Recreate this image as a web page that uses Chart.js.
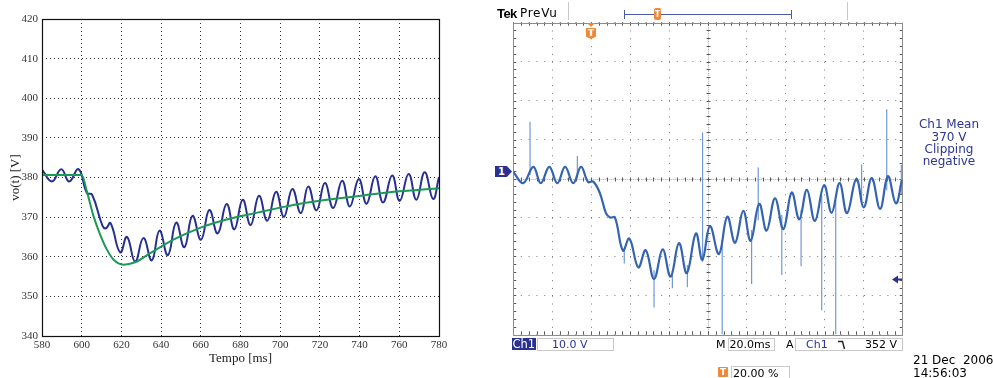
<!DOCTYPE html>
<html>
<head>
<meta charset="utf-8">
<script src="https://cdn.jsdelivr.net/npm/chart.js@4.4.0/dist/chart.umd.min.js"></script>
<style>
  body { margin: 0; background: #fff; width: 993px; height: 378px; overflow: hidden; position: relative; font-family: "DejaVu Sans", sans-serif; }
  canvas { position: absolute; top: 0; }
  #simChart { left: 0; }
  #scopeChart { left: 500px; }
  .t { position: absolute; white-space: nowrap; line-height: 1; font-size: 12px; }
  .box { position: absolute; border: 1px solid #c9c9c9; background: #fff; }
  .navy { color: #2b3596; }
  .orange { background: #f0883a; color: #fff; font-weight: bold; font-size: 9px; text-align: center; position: absolute; }
</style>
</head>
<body>
<canvas id="simChart" width="460" height="378"></canvas>
<canvas id="scopeChart" width="493" height="378"></canvas>

<!-- scope header -->
<div class="t" style="left:497px;top:6.5px;font-family:'Liberation Sans';font-weight:bold;font-size:13px;letter-spacing:-0.6px">Tek</div>
<div class="t" style="left:520px;top:7px;letter-spacing:.7px">PreVu</div>
<div style="position:absolute;left:568px;top:2px;width:1px;height:18px;background:#c8c8c8"></div>
<div style="position:absolute;left:847px;top:2px;width:1px;height:18px;background:#c8c8c8"></div>
<div style="position:absolute;left:624px;top:14px;width:168px;height:1px;background:#4a5aa8"></div>
<div style="position:absolute;left:624px;top:10px;width:1px;height:9px;background:#4a5aa8"></div>
<div style="position:absolute;left:791px;top:10px;width:1px;height:9px;background:#4a5aa8"></div>
<div class="orange" style="left:654px;top:8px;width:7px;height:12px;line-height:13px;border-radius:2px;font-size:8px">T</div>
<div style="position:absolute;left:586.5px;top:23px;width:0;height:0;border-left:4.5px solid transparent;border-right:4.5px solid transparent;border-top:4px solid #f0883a"></div>
<div class="orange" style="left:586px;top:28px;width:10px;height:11px;line-height:11px;clip-path:polygon(0 0,100% 0,100% 80%,50% 100%,0 80%)">T</div>
<div style="position:absolute;left:495px;top:166px;width:17px;height:11px;background:#2b3190;clip-path:polygon(0 0,70% 0,100% 50%,70% 100%,0 100%);color:#fff;font-weight:bold;font-size:10px;line-height:11px;padding-left:3px;box-sizing:border-box">1</div>
<svg style="position:absolute;left:892px;top:275px" width="11" height="9"><polygon points="0,4.5 6,0.5 6,8.5" fill="#2b3190"/><rect x="5" y="3.5" width="5" height="2" fill="#2b3190"/></svg>

<div class="t navy" style="left:900px;top:118.3px;width:98px;text-align:center;line-height:12.2px">Ch1 Mean<br>370 V<br>Clipping<br>negative</div>

<!-- scope footer -->
<div class="t" style="left:511.5px;top:338px;width:24.5px;height:12px;background:#2b3190;color:#fff;font-size:11.5px;line-height:12px;text-align:center">Ch1</div>
<div class="box" style="left:536.5px;top:337.5px;width:75px;height:11px"></div>
<div class="t navy" style="left:552px;top:339px;font-size:11px">10.0 V</div>
<div class="t" style="left:716px;top:339px;font-size:11px">M</div>
<div class="box" style="left:727.5px;top:337.5px;width:45px;height:11px"></div>
<div class="t" style="left:729.5px;top:339px;font-size:11px">20.0ms</div>
<div class="t" style="left:786px;top:339px;font-size:11px">A</div>
<div class="box" style="left:795px;top:337.5px;width:106px;height:11px"></div>
<div class="t navy" style="left:806px;top:339px;font-size:11px">Ch1</div>
<svg style="position:absolute;left:837px;top:340px" width="10" height="10"><polyline points="1,1.5 5.5,1.5 7.5,9" fill="none" stroke="#222" stroke-width="1.4"/></svg>
<div class="t" style="left:865px;top:339px;font-size:11px">352 V</div>
<div class="t" style="left:913px;top:353.5px">21 Dec&nbsp;&nbsp;2006</div>
<div class="t" style="left:913px;top:367px">14:56:03</div>
<div class="orange" style="left:718px;top:367px;width:10px;height:10px;line-height:10px;border-radius:1px">T</div>
<div class="box" style="left:730.5px;top:366px;width:57px;height:11px"></div>
<div class="t" style="left:733px;top:367.5px;font-size:11px">20.00 %</div>

<script>
// Simulated output voltage (left plot)
const simTime = [580, 585, 589.7, 593.7, 598.4, 602.6, 605.2, 610.5, 612.3, 614.5, 619.4, 622.8, 626.9, 631.1, 635.3, 639.2, 643.4, 647.6, 651.7, 655.8, 660.1, 664.3, 668.5, 673, 676.9, 681.1, 685.1, 689.3, 693.5, 697.9, 701.9, 706.1, 710.4, 714.1, 718.3, 722.5, 726.7, 731.2, 735.1, 739.6, 743.5, 747.9, 751.8, 756.4, 760.2, 764.7, 768.6, 772.8, 777, 780];
const simVolt = [382.0, 379, 382.1, 379, 382.1, 376.1, 375.7, 367.8, 367.2, 368.5, 361.1, 365, 358.8, 364.7, 359.1, 366.6, 360.4, 368.6, 362.4, 370.3, 364.3, 371.8, 365.9, 373.3, 366.9, 374.4, 368, 375.4, 369.1, 376.4, 370.1, 377.1, 371, 377.7, 371.7, 378.6, 372.3, 379.2, 372.7, 379.6, 373.4, 380.3, 373.7, 380.5, 374.1, 380.9, 374.4, 381.3, 374.6, 380.1];

// Mean (average model) voltage
const avgTime = [580, 600, 602.6, 606, 609.3, 612.7, 616, 621, 626.9, 634.5, 646.2, 659.6, 673, 689, 700, 710, 726.7, 743.5, 760.2, 780];
const avgVolt = [380.6, 380.6, 376.5, 370.2, 365.6, 361.8, 359.3, 358, 358.6, 360.9, 364.3, 367.3, 369.4, 371.2, 372.4, 373.4, 374.6, 375.6, 376.5, 377.3];

// Oscilloscope capture: time from left edge of screen [ms], voltage [V]
const scopeTime = [0, 5.1, 10.3, 14.1, 18.5, 22.6, 26.6, 30.8, 34.8, 38.4, 41.1, 44.5, 47.6, 49.7, 52.2, 56.3, 59.6, 64.2, 68.0, 72.3, 76.7, 80.8, 85.1, 89.1, 93.8, 97.1, 101.0, 105.6, 109.9, 113.9, 118.1, 121.9, 126.3, 130.1, 134.4, 138.7, 143.0, 146.9, 150.8, 154.9, 159.6, 163.5, 167.6, 171.4, 176.2, 180.0, 184.1, 188.4, 192.4, 196.5, 199.6];
const scopeVolt = [381.7, 378.8, 383.0, 378.8, 383.0, 378.8, 383.0, 378.8, 383.0, 379.1, 379.2, 376.2, 371.1, 370.0, 370.0, 361.5, 364.6, 357.2, 361.6, 354.2, 361.8, 354.8, 363.4, 355.7, 365.9, 359.1, 367.8, 360.6, 370.2, 363.5, 371.7, 364.0, 373.5, 366.6, 374.9, 367.0, 376.4, 369.5, 377.1, 369.1, 378.3, 371.2, 378.8, 371.1, 379.9, 372.6, 380.1, 372.2, 380.6, 373.6, 379.6];

// switching glitches on the scope trace
const spikeTime = [8.6, 32.9, 57.0, 72.3, 81.7, 89.4, 97.2, 107.3, 122.4, 125.8, 137.9, 147.8, 158.4, 165.6, 178.9, 191.8, 199.3];
const spikeHigh = [394.6, 385.8, 361.6, 356.5, 356.5, 357.8, 391.8, 364.2, 366.8, 382.8, 370.6, 371.9, 375.8, 374.5, 383.6, 397.8, 383.5];
const spikeLow = [380.9, 380.0, 358.2, 346.9, 351.8, 352.1, 358.6, 340, 352.9, 369.3, 355.2, 357.5, 346.2, 340, 374.5, 377.0, 376];

const toXY = (xs, ys) => xs.map((x, i) => ({ x: x, y: ys[i] }));

const spikePts = [];
spikeTime.forEach((t, i) => {
  spikePts.push({ x: t, y: spikeHigh[i] }, { x: t, y: spikeLow[i] }, { x: t, y: null });
});

// box around the matlab axes
const frameBox = {
  id: 'frameBox',
  afterDraw(chart) {
    const { ctx, chartArea: a } = chart;
    ctx.save();
    ctx.strokeStyle = '#111';
    ctx.lineWidth = 1.2;
    ctx.strokeRect(Math.round(a.left) + 0.5, Math.round(a.top) + 0.5, Math.round(a.right - a.left), Math.round(a.bottom - a.top));
    ctx.restore();
  }
};

// scope graticule: center cross, minor ticks, frame
const graticule = {
  id: 'graticule',
  beforeDatasetsDraw(chart) {
    const { ctx, chartArea: a } = chart;
    const dx = (a.right - a.left) / 50, dy = (a.bottom - a.top) / 40;
    const cx = Math.round((a.left + a.right) / 2) + 0.5, cy = Math.round((a.top + a.bottom) / 2) + 0.5;
    const line = (x1, y1, x2, y2) => { ctx.beginPath(); ctx.moveTo(x1, y1); ctx.lineTo(x2, y2); ctx.stroke(); };
    ctx.save();
    ctx.lineWidth = 1;
    ctx.strokeStyle = '#a8a8a8';
    ctx.setLineDash([1, 1]);
    line(cx, a.top, cx, a.bottom);
    line(a.left, cy, a.right, cy);
    ctx.setLineDash([]);
    ctx.strokeStyle = '#5a5a5a';
    for (let i = 1; i < 50; i++) {
      const x = Math.round(a.left + i * dx) + 0.5;
      line(x, a.top, x, a.top + 3);
      line(x, a.bottom, x, a.bottom - 3);
      line(x, cy - 2, x, cy + 2);
    }
    for (let j = 1; j < 40; j++) {
      const y = Math.round(a.top + j * dy) + 0.5;
      line(a.left, y, a.left + 3, y);
      line(a.right, y, a.right - 3, y);
      line(cx - 2, y, cx + 2, y);
    }
    ctx.strokeStyle = '#8c8c8c';
    ctx.strokeRect(Math.round(a.left) + 0.5, Math.round(a.top) + 0.5, Math.round(a.right - a.left), Math.round(a.bottom - a.top));
    ctx.restore();
  }
};

const serif = 'Liberation Serif';

new Chart(document.getElementById('simChart'), {
  type: 'line',
  data: {
    datasets: [
      { data: toXY(avgTime, avgVolt), borderColor: '#1a9a55', borderWidth: 2, cubicInterpolationMode: 'monotone', pointRadius: 0 },
      { data: toXY(simTime, simVolt), borderColor: '#25308f', borderWidth: 2, tension: 0.45, pointRadius: 0 }
    ]
  },
  options: {
    responsive: false,
    animation: false,
    layout: { padding: { top: 19, right: 21, left: 0, bottom: 0 } },
    plugins: { legend: { display: false }, tooltip: { enabled: false } },
    scales: {
      x: {
        type: 'linear', min: 580, max: 780,
        afterFit: s => { s.height = 42; },
        ticks: { stepSize: 20, padding: 3, maxRotation: 0, color: '#333', font: { family: serif, size: 11 } },
        grid: { color: '#333', drawTicks: false },
        border: { display: false, dash: [1, 3] },
        title: { display: true, text: 'Tempo [ms]', color: '#222', font: { family: serif, size: 13 }, padding: { top: 0, bottom: 12 } }
      },
      y: {
        type: 'linear', min: 340, max: 420,
        afterFit: s => { s.width = 42; },
        ticks: { stepSize: 10, padding: 4, color: '#333', font: { family: serif, size: 11 } },
        grid: { color: '#333', drawTicks: false },
        border: { display: false, dash: [1, 3] },
        title: { display: true, text: 'vo(t) [V]', color: '#222', font: { family: serif, size: 13 }, padding: { top: 8, bottom: 0 } }
      }
    }
  },
  plugins: [frameBox]
});

new Chart(document.getElementById('scopeChart'), {
  type: 'line',
  data: {
    datasets: [
      { data: toXY(scopeTime, scopeVolt), borderColor: '#3463b0', borderWidth: 2.2, tension: 0.4, pointRadius: 0 },
      { data: spikePts, borderColor: '#7299d6', borderWidth: 1.2, pointRadius: 0, spanGaps: false }
    ]
  },
  options: {
    responsive: false,
    animation: false,
    layout: { padding: { left: 13.3, top: 22.7, right: 90.3, bottom: 43.7 } },
    plugins: { legend: { display: false }, tooltip: { enabled: false } },
    scales: {
      x: {
        type: 'linear', min: 0, max: 200,
        afterFit: s => { s.height = 0; },
        ticks: { display: false, stepSize: 20 },
        grid: { color: '#7a7a7a', drawTicks: false },
        border: { display: false, dash: [1, 6.8] }
      },
      y: {
        type: 'linear', min: 340, max: 420,
        afterFit: s => { s.width = 0; },
        ticks: { display: false, stepSize: 10 },
        grid: { color: '#7a7a7a', drawTicks: false },
        border: { display: false, dash: [1, 6.8] }
      }
    }
  },
  plugins: [graticule]
});
</script>
</body>
</html>
